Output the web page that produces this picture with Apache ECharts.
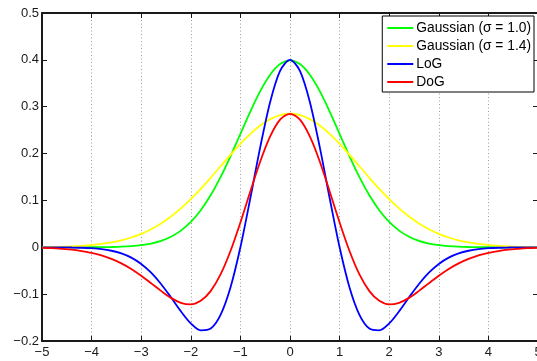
<!DOCTYPE html>
<html>
<head>
<meta charset="utf-8">
<script src="https://cdn.jsdelivr.net/npm/echarts@6/dist/echarts.min.js"></script>
<style>html,body{margin:0;padding:0;background:#fff;}#c{width:537px;height:361px;}</style>
</head>
<body>
<div id="c"></div>
<script>
var xs = [-5,-4.8,-4.6,-4.4,-4.2,-4,-3.8,-3.6,-3.4,-3.2,-3,-2.8,-2.6,-2.4,-2.2,-2,-1.8,-1.6,-1.4,-1.2,-1,-0.8,-0.6,-0.4,-0.2,0,0.2,0.4,0.6,0.8,1,1.2,1.4,1.6,1.8,2,2.2,2.4,2.6,2.8,3,3.2,3.4,3.6,3.8,4,4.2,4.4,4.6,4.8,5];
var gauss1 = [0,0,0,0,0,0.0001,0.0003,0.0006,0.0012,0.0024,0.0044,0.0079,0.0136,0.0224,0.0355,0.0540,0.0790,0.1109,0.1497,0.1942,0.2420,0.2897,0.3332,0.3682,0.3910,0.3989,0.3910,0.3682,0.3332,0.2897,0.2420,0.1942,0.1497,0.1109,0.0790,0.0540,0.0355,0.0224,0.0136,0.0079,0.0044,0.0024,0.0012,0.0006,0.0003,0.0001,0,0,0,0,0];
var gauss14 = [0.0005,0.0008,0.0013,0.0020,0.0032,0.0048,0.0072,0.0105,0.0149,0.0209,0.0287,0.0386,0.0508,0.0656,0.0829,0.1027,0.1247,0.1483,0.1729,0.1974,0.2208,0.2421,0.2600,0.2736,0.2821,0.2850,0.2821,0.2736,0.2600,0.2421,0.2208,0.1974,0.1729,0.1483,0.1247,0.1027,0.0829,0.0656,0.0508,0.0386,0.0287,0.0209,0.0149,0.0105,0.0072,0.0048,0.0032,0.0020,0.0013,0.0008,0.0005];
var logv = [0,-0.0001,-0.0002,-0.0005,-0.0010,-0.0020,-0.0039,-0.0074,-0.0131,-0.0221,-0.0355,-0.0542,-0.0783,-0.1068,-0.1366,-0.1624,-0.1773,-0.1735,-0.1441,-0.0857,0,0.1046,0.2138,0.3102,0.3764,0.4000,0.3764,0.3102,0.2138,0.1046,0,-0.0857,-0.1441,-0.1735,-0.1773,-0.1624,-0.1366,-0.1068,-0.0783,-0.0542,-0.0355,-0.0221,-0.0131,-0.0074,-0.0039,-0.0020,-0.0010,-0.0005,-0.0002,-0.0001,0];
var dogv = [-0.0013,-0.0020,-0.0033,-0.0050,-0.0080,-0.0118,-0.0173,-0.0248,-0.0343,-0.0463,-0.0608,-0.0768,-0.0930,-0.1080,-0.1185,-0.1218,-0.1143,-0.0935,-0.0580,-0.0080,0.0530,0.1190,0.1830,0.2365,0.2723,0.2848,0.2723,0.2365,0.1830,0.1190,0.0530,-0.0080,-0.0580,-0.0935,-0.1143,-0.1218,-0.1185,-0.1080,-0.0930,-0.0768,-0.0608,-0.0463,-0.0343,-0.0248,-0.0173,-0.0118,-0.0080,-0.0050,-0.0033,-0.0020,-0.0013];
var names = ['Gaussian (\u03c3 = 1.0)','Gaussian (\u03c3 = 1.4)','LoG','DoG'];
var colors = ['#00ff00','#ffff00','#0000ff','#ff0000'];
var seriesVals = [gauss1, gauss14, logv, dogv];

var FONT = '"Liberation Sans", Arial, Helvetica, sans-serif';
function fmt(v){ var r = Math.round(v*10)/10; return String(r).replace('-', '\u2212'); }

var chart = echarts.init(document.getElementById('c'), null, {renderer:'canvas'});
var axisLine = {show:true, onZero:false, lineStyle:{color:'#1a1a1a', width:2}};
var tick = {show:true, inside:true, length:5, lineStyle:{color:'#1a1a1a', width:1}};
chart.setOption({
  animation:false,
  backgroundColor:'#fff',
  grid:{left:42, top:13, width:496, height:328, containLabel:false, outerBoundsMode:'none'},
  xAxis:[{
    type:'value', min:-5, max:5, interval:1, position:'bottom',
    axisLine:axisLine, axisTick:tick,
    axisLabel:{formatter:fmt, fontFamily:FONT, fontSize:13, color:'#1a1a1a', margin:5},
    splitLine:{show:true, lineStyle:{color:'#9a9a9a', type:[1,2.5], width:1}}
  },{
    type:'value', min:-5, max:5, interval:1, position:'top',
    axisLine:axisLine, axisTick:tick, axisLabel:{show:false}, splitLine:{show:false}
  }],
  yAxis:[{
    type:'value', min:-0.2, max:0.5, interval:0.1, position:'left',
    axisLine:axisLine, axisTick:tick,
    axisLabel:{formatter:fmt, fontFamily:FONT, fontSize:13, color:'#1a1a1a', margin:3},
    splitLine:{show:false}
  },{
    type:'value', min:-0.2, max:0.5, interval:0.1, position:'right',
    axisLine:axisLine, axisTick:tick, axisLabel:{show:false}, splitLine:{show:false}
  }],
  legend:{
    orient:'vertical', right:3, top:16,
    backgroundColor:'#fff', borderColor:'#000', borderWidth:1,
    padding:[5,3,3,5], itemGap:4, itemWidth:26, itemHeight:2, icon:'rect',
    textStyle:{fontFamily:FONT, fontSize:13.8, color:'#000', padding:[0,0,0,-2], lineHeight:14},
    data:names, z:20
  },
  series: seriesVals.map(function(arr, k){
    return {
      name:names[k], type:'line', xAxisIndex:0, yAxisIndex:0,
      data: xs.map(function(x,i){ return [x, arr[i]]; }),
      showSymbol:false, smooth:0.3, color:colors[k],
      lineStyle:{color:colors[k], width:1.8}, z:2+k
    };
  })
});
</script>
</body>
</html>
